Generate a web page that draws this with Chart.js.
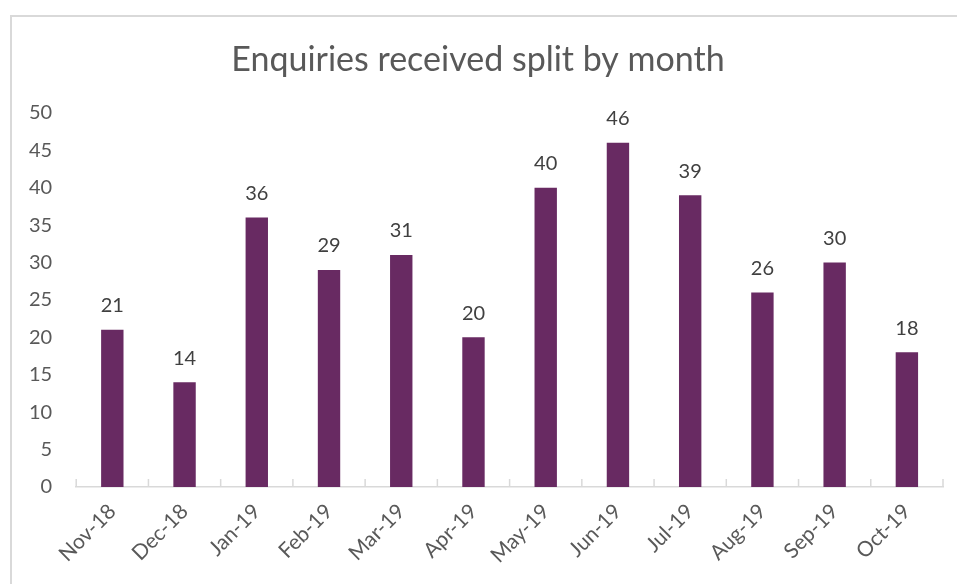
<!DOCTYPE html>
<html>
<head>
<meta charset="utf-8">
<script src="https://cdn.jsdelivr.net/npm/chart.js@4"></script>
<style>
  html, body { margin: 0; padding: 0; background: #fff; }
  #wrap { position: relative; width: 957px; height: 584px; }
</style>
</head>
<body>
<div id="wrap"><canvas id="barChart"></canvas></div>
<script>
// chart data
const months = ['Nov-18', 'Dec-18', 'Jan-19', 'Feb-19', 'Mar-19', 'Apr-19',
                'May-19', 'Jun-19', 'Jul-19', 'Aug-19', 'Sep-19', 'Oct-19'];
const enquiries = [21, 14, 36, 29, 31, 20, 40, 46, 39, 26, 30, 18];

const FONT = 'Lato, "Open Sans", sans-serif';
const TEXT = '#595959';

// frame around the chart (like the Excel chart border)
const framePlugin = {
    id: 'frame',
    beforeDraw(chart) {
        const c = chart.ctx;
        c.save();
        c.strokeStyle = '#d9d9d9';
        c.lineWidth = 2;
        c.strokeRect(11, 16, chart.width + 20, chart.height + 20);
        c.restore();
    }
};

// short tick marks between categories, sitting on top of the axis line
const tickPlugin = {
    id: 'catTicks',
    afterDraw(chart) {
        const x = chart.scales.x;
        const c = chart.ctx;
        const half = (x.getPixelForValue(1) - x.getPixelForValue(0)) / 2;
        c.save();
        c.strokeStyle = '#d9d9d9';
        c.lineWidth = 1.5;
        for (let i = 0; i <= months.length; i++) {
            const px = x.getPixelForValue(i) - half;
            c.beginPath();
            c.moveTo(px, x.top);
            c.lineTo(px, x.top - 8);
            c.stroke();
        }
        c.restore();
    }
};

// value labels above each bar
const valuePlugin = {
    id: 'values',
    afterDatasetsDraw(chart) {
        const c = chart.ctx;
        const meta = chart.getDatasetMeta(0);
        c.save();
        c.fillStyle = '#404040';
        c.font = '20px ' + FONT;
        c.textAlign = 'center';
        c.textBaseline = 'bottom';
        meta.data.forEach((bar, i) => {
            c.fillText(enquiries[i], bar.x, bar.y - 14);
        });
        c.restore();
    }
};

const ctx = document.getElementById('barChart').getContext('2d');

new Chart(ctx, {
    type: 'bar',
    data: {
        labels: months,
        datasets: [{
            data: enquiries,
            backgroundColor: '#682a62',
            barPercentage: 0.31,
            categoryPercentage: 1
        }]
    },
    options: {
        responsive: true,
        maintainAspectRatio: false,
        animation: false,
        layout: { padding: { top: 40, right: 14, left: 13, bottom: 12 } },
        plugins: {
            legend: { display: false },
            tooltip: { enabled: false },
            title: {
                display: true,
                text: 'Enquiries received split by month',
                color: TEXT,
                font: { size: 34, weight: 'normal', family: FONT },
                padding: { top: 0, bottom: 32 }
            }
        },
        scales: {
            x: {
                grid: { display: false },
                border: { color: '#d9d9d9', width: 1.5 },
                ticks: {
                    color: TEXT,
                    font: { size: 21, family: FONT },
                    minRotation: 45,
                    maxRotation: 45,
                    padding: 4
                }
            },
            y: {
                min: 0,
                max: 50,
                grid: { display: false },
                border: { display: false },
                ticks: {
                    stepSize: 5,
                    color: TEXT,
                    font: { size: 20, family: FONT },
                    padding: 16
                }
            }
        }
    },
    plugins: [framePlugin, tickPlugin, valuePlugin]
});
</script>
</body>
</html>
